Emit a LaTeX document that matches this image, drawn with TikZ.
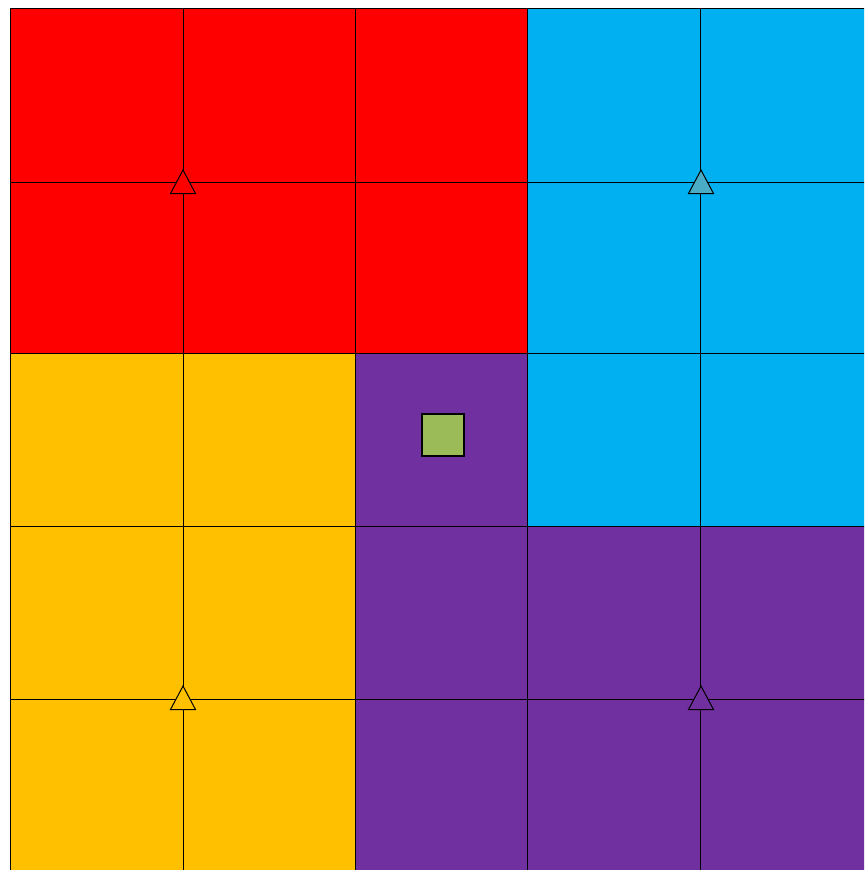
\documentclass[tikz,border=0pt]{standalone}
\definecolor{cred}{HTML}{FF0000}
\definecolor{cblue}{HTML}{00B0F0}
\definecolor{cyel}{HTML}{FFC000}
\definecolor{cpur}{HTML}{7030A0}
\definecolor{cgreen}{HTML}{9BBB59}
\definecolor{cteal}{HTML}{4BACC6}
\tikzset{
  gridln/.style={draw=black, line width=0.75pt},
  tri/.style={draw=black, line width=0.75pt},
}
\begin{document}
\begin{tikzpicture}[x=0.75pt,y=-0.75pt]
\useasboundingbox (0,0) rectangle (864,870);
\clip (0,0) rectangle (864,870);
% regions
\fill[cred] (10,9) rectangle (527.5,353.5);
\fill[cblue] (527.5,9) rectangle (880,526.5);
\fill[cyel] (10,353.5) rectangle (355,880);
\fill[cpur] (355,353.5) rectangle (527.5,526.5);
\fill[cpur] (355,526.5) rectangle (880,880);
% grid
\foreach \x in {10,183,355,527.5,700.5} \draw[gridln] (\x,9) -- (\x,880);
\foreach \y in {9,182,353.5,526.5,699} \draw[gridln] (10,\y) -- (880,\y);
% triangles
\coordinate (t1) at (183,182);
\coordinate (t2) at (701,182);
\coordinate (t3) at (183,698);
\coordinate (t4) at (701,698);
\foreach \c/\f in {t1/cred,t2/cteal,t3/cyel,t4/cpur}
  \path[tri, fill=\f] ([shift={(0,-12)}]\c) -- ([shift={(12.5,11.5)}]\c) -- ([shift={(-12.5,11.5)}]\c) -- cycle;
% green square
\node[draw=black, line width=1.5pt, fill=cgreen, minimum width=31.5pt, minimum height=31.5pt, inner sep=0pt] (sq) at (442.5,435) {};
\end{tikzpicture}
\end{document}
